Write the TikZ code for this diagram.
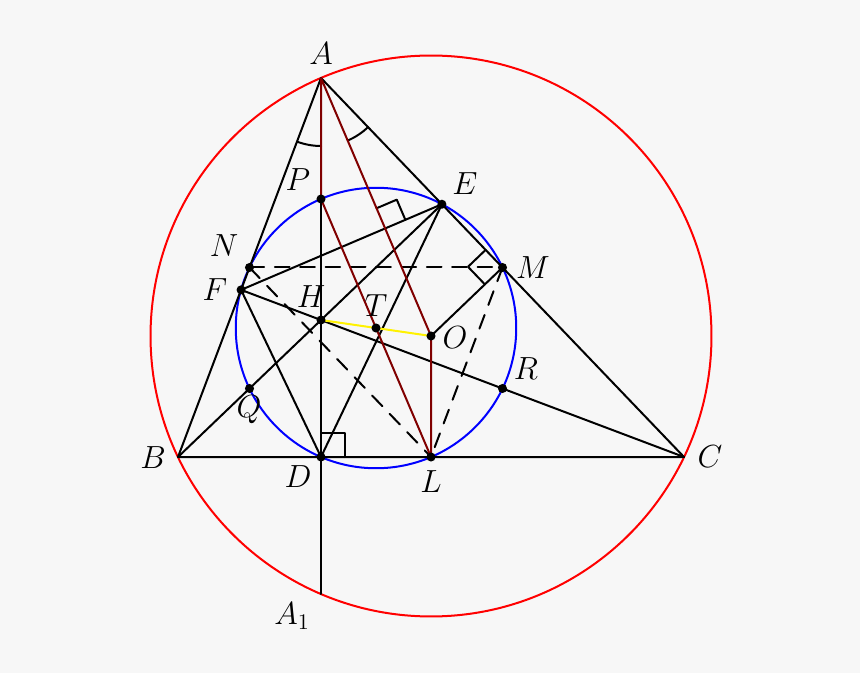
\RequirePackage{fix-cm}
\documentclass[tikz,border=0pt]{standalone}
\usetikzlibrary{calc}

\definecolor{bgc}{RGB}{247,247,247}
\definecolor{darkred}{RGB}{128,0,0}

\tikzset{
  seg/.style={line width=1.5pt, line cap=round, line join=round},
  dashseg/.style={seg, dash pattern=on 11pt off 8pt},
  lbl/.style={inner sep=0pt, font=\fontsize{24}{29}\selectfont},
}

\begin{document}
\begin{tikzpicture}[x=0.75pt,y=0.75pt,yscale=-1,xscale=1]
\useasboundingbox (0,0) rectangle (860,673);
\fill[bgc] (0,0) rectangle (860,673);

%Points of the triangle
\coordinate (A) at (321,78);
\coordinate (B) at (178,457);
\coordinate (C) at (684,457);
\coordinate (D) at (321,457);
\coordinate (E) at (441.91,204.24);
\coordinate (F) at (241.06,289.87);
\coordinate (H) at (321,320);
\coordinate (O) at (431,336);
\coordinate (L) at (431,457);
\coordinate (M) at (502.5,267.5);
\coordinate (N) at (249.5,267.5);
\coordinate (P) at (321,199);
\coordinate (Q) at (249.5,388.5);
\coordinate (R) at (502.5,388.5);
\coordinate (T) at (376,328);
\coordinate (A1) at (321,594);
\coordinate (X) at (intersection of A--O and E--F);

%Circles
\draw [seg, red] (O) circle (280.47);
\draw [seg, blue] (T) circle (140.24);

%Triangle and altitudes
\draw [seg] (A) -- (B) -- (C) -- cycle;
\draw [seg] (A) -- (A1);
\draw [seg] (B) -- (E);
\draw [seg] (C) -- (F);
\draw [seg] (F) -- (E) -- (D) -- cycle;
\draw [seg] (M) -- (O);

%Dashed lines
\draw [dashseg] (N) -- (M);
\draw [dashseg] (N) -- (L);
\draw [dashseg] (M) -- (L);

%Right angles
\draw [seg] (D) ++(0,-24) -- ++(24,0) -- ++(0,24);
\draw [seg] (M) ++(-16.9,-17.6) -- ++(-17.6,16.9) -- ++(16.9,17.6);
\draw [seg] (X) ++(-8.6,-20.2) -- ++(20.2,-8.6) -- ++(8.6,20.2);

%Equal angles at A
\draw [seg] (A) ++(90:68) arc [start angle=90, end angle=110.67, radius=68];
\draw [seg] (A) ++(46.24:68) arc [start angle=46.24, end angle=66.91, radius=68];

%Parallelogram APLO
\draw [seg, darkred] (A) -- (P) -- (L) -- (O) -- cycle;

%Euler line
\draw [seg, yellow] (H) -- (O);

%Dots
\foreach \p in {P,E,N,F,M,H,T,O,R,Q,D,L}
  \fill (\p) circle (3.4pt);

% Text Nodes
\node [lbl] (lblA) at (321,54) {$A$};
\node [lbl] (lblB) at (153,458) {$B$};
\node [lbl] (lblC) at (710,457) {$C$};
\node [lbl] (lblD) at (298,477) {$D$};
\node [lbl] (lblE) at (465,184) {$E$};
\node [lbl] (lblF) at (215,290) {$F$};
\node [lbl] (lblH) at (311,297) {$H$};
\node [lbl] (lblT) at (376,306) {$T$};
\node [lbl] (lblO) at (455,338) {$O$};
\node [lbl] (lblL) at (431,482) {$L$};
\node [lbl] (lblM) at (533,268) {$M$};
\node [lbl] (lblN) at (224,246) {$N$};
\node [lbl] (lblP) at (298,180) {$P$};
\node [lbl] (lblQ) at (249,410) {$Q$};
\node [lbl] (lblR) at (526,369) {$R$};
\node [lbl] (lblA1) at (292,616) {$A_1$};

\end{tikzpicture}
\end{document}
